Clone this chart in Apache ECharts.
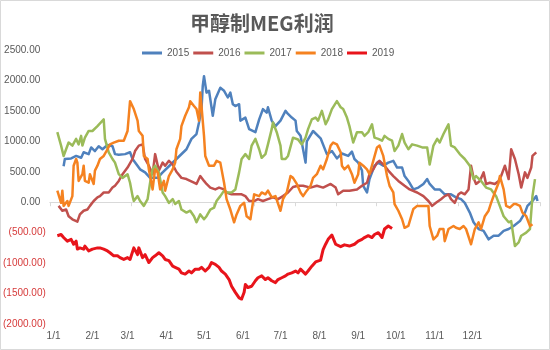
<!DOCTYPE html>
<html>
<head>
<meta charset="utf-8">
<script src="https://cdn.jsdelivr.net/npm/echarts@6/dist/echarts.min.js"></script>
<style>
  html, body { margin: 0; padding: 0; background: #fff; }
  #chart { width: 550px; height: 350px; }
</style>
</head>
<body>
<div id="chart"></div>
<script>
// Methanol-to-MEG profit by year, x = day of year (0 = Jan 1), y = yuan/ton
const years = ['2015', '2016', '2017', '2018', '2019'];
const monthStarts = [0, 31, 59, 90, 120, 151, 181, 212, 243, 273, 304, 334];
const monthLabels = ['1/1', '2/1', '3/1', '4/1', '5/1', '6/1', '7/1', '8/1', '9/1', '10/1', '11/1', '12/1'];
const yTicks = [-2000, -1500, -1000, -500, 0, 500, 1000, 1500, 2000, 2500];

const profit2015 = [
  [8,590],[9,710],[14,720],[18,760],[22,730],[24,820],[28,790],[30,900],[33,840],[36,920],
  [39,870],[43,940],[47,920],[49,790],[52,780],[57,790],[61,820],[63,710],[69,540],[73,490],
  [77,400],[83,400],[87,490],[91,570],[98,710],[106,870],[110,1040],[114,1120],[116,1310],[118,1530],
  [119,1910],[120,2070],[122,1800],[124,1830],[127,1420],[129,1690],[133,1880],[136,1830],[139,1720],[141,1800],
  [143,1610],[145,1580],[148,1610],[149,1340],[153,1390],[156,1200],[161,1150],[164,1360],[167,1530],[170,1470],
  [171,1560],[174,1340],[177,1250],[181,1340],[185,1500],[187,1450],[190,1390],[193,1340],[194,1170],[197,1090],
  [199,870],[201,650],[202,1000],[207,1170],[213,1050],[218,790],[222,840],[226,720],[230,800],[235,760],
  [238,830],[240,710],[243,650],[246,520],[247,270],[250,160],[252,380],[256,600],[259,650],[263,600],
  [267,650],[271,680],[274,570],[278,570],[280,430],[283,350],[287,210],[291,240],[295,300],[298,380],
  [300,300],[304,210],[308,210],[312,130],[317,130],[321,80],[325,50],[328,-10],[332,-170],[335,-330],
  [339,-440],[343,-470],[347,-610],[351,-550],[355,-550],[359,-470],[363,-440],[367,-390],[372,-310],[376,-170],
  [378,-60],[382,20],[385,100],[386,20]
];
const profit2016 = [
  [4,-60],[7,-140],[10,-120],[12,-230],[15,-280],[19,-320],[21,-200],[24,-140],[27,-120],[29,-60],
  [32,20],[35,80],[37,100],[40,160],[44,160],[47,240],[49,270],[52,350],[55,460],[59,570],
  [63,710],[65,840],[68,930],[71,950],[73,710],[76,600],[79,460],[81,790],[84,520],[87,650],
  [89,600],[92,680],[95,620],[98,500],[102,400],[106,380],[109,350],[112,320],[114,300],[117,430],
  [120,350],[122,300],[125,240],[129,210],[132,240],[136,210],[138,160],[142,130],[146,130],[150,130],
  [153,100],[156,20],[160,20],[163,50],[167,20],[171,50],[175,80],[179,50],[183,100],[187,160],
  [191,250],[195,270],[199,270],[205,240],[210,270],[215,240],[221,300],[225,240],[227,130],[231,190],
  [236,190],[242,210],[246,270],[250,320],[252,460],[255,540],[258,650],[260,680],[264,600],[267,520],
  [271,430],[275,350],[280,270],[284,210],[290,160],[295,100],[299,20],[302,-60],[305,-10],[309,50],
  [312,100],[315,130],[317,50],[320,-10],[323,130],[325,160],[328,130],[331,210],[333,600],[335,400],
  [337,300],[340,350],[343,490],[345,300],[348,320],[352,300],[355,350],[357,430],[360,600],[363,380],
  [365,870],[368,710],[371,460],[373,240],[376,490],[378,400],[381,570],[382,760],[385,820]
];
const profit2017 = [
  [3,1150],[6,930],[8,760],[10,870],[12,980],[15,930],[18,1040],[20,950],[22,1090],[23,930],
  [25,1060],[28,1170],[31,1170],[35,1250],[40,1360],[41,1040],[44,820],[47,710],[49,650],[52,460],
  [55,400],[59,460],[61,320],[63,100],[64,20],[67,100],[69,20],[72,-60],[75,50],[77,320],
  [79,540],[81,600],[84,490],[87,160],[89,100],[92,-10],[95,50],[97,-30],[100,20],[102,-120],
  [106,-170],[109,-140],[112,-230],[114,-330],[117,-200],[120,-280],[122,-230],[125,-120],[128,-90],[130,20],
  [133,100],[136,190],[138,160],[142,160],[145,210],[148,490],[150,710],[153,790],[156,710],[158,930],
  [161,1040],[164,870],[166,730],[169,790],[171,950],[174,1200],[175,1310],[178,1150],[181,930],[182,710],
  [185,710],[187,760],[191,1060],[195,1030],[198,950],[201,1060],[203,1200],[206,1360],[209,1390],[211,1340],
  [214,1500],[217,1280],[219,1360],[222,1530],[226,1660],[229,1560],[231,1530],[234,1390],[236,1250],[239,980],
  [242,1150],[246,1150],[248,1090],[251,1150],[254,1280],[256,1060],[259,1040],[262,1010],[264,1090],[267,1040],
  [270,1010],[272,840],[275,930],[278,1120],[280,980],[283,870],[286,950],[290,930],[294,900],[298,900],
  [300,620],[303,930],[306,1040],[308,980],[311,1120],[313,1200],[315,1280],[317,930],[320,900],[324,790],
  [328,710],[332,600],[335,380],[337,430],[341,350],[345,240],[349,210],[353,100],[359,-230],[363,-330],
  [365,-310],[368,-720],[371,-660],[373,-550],[377,-500],[380,-440],[382,100],[384,380]
];
const profit2018 = [
  [3,190],[6,-10],[7,190],[8,-60],[11,20],[12,-60],[15,100],[16,600],[18,710],[19,650],
  [20,350],[23,460],[24,600],[25,350],[28,320],[29,460],[32,300],[33,520],[35,600],[37,710],
  [40,760],[43,870],[45,950],[48,980],[52,1010],[56,1010],[59,1170],[61,1660],[64,1530],[67,1340],
  [68,1170],[71,1090],[72,760],[75,710],[76,540],[79,210],[80,380],[81,540],[83,490],[85,210],
  [88,350],[89,190],[92,430],[95,540],[97,650],[98,870],[101,1040],[102,1250],[105,1420],[108,1560],
  [109,1660],[112,1580],[114,1530],[116,1340],[117,1800],[118,1580],[120,1090],[121,760],[124,600],[128,600],
  [130,680],[133,650],[136,320],[138,50],[141,-120],[144,-330],[146,-200],[149,-60],[152,-10],[154,-230],
  [157,-280],[160,130],[164,100],[166,160],[169,130],[171,190],[174,80],[177,100],[181,-140],[183,50],
  [186,160],[189,430],[191,400],[194,300],[197,160],[199,100],[202,190],[205,270],[207,400],[210,460],
  [213,600],[215,540],[218,710],[221,930],[223,980],[226,950],[229,820],[230,600],[232,540],[235,600],
  [238,460],[240,320],[243,460],[244,650],[247,600],[250,540],[252,460],[255,680],[258,900],[260,930],
  [263,760],[266,430],[268,270],[271,160],[272,-30],[275,-140],[278,-280],[280,-420],[283,-390],[287,-110],
  [290,-60],[295,-60],[299,-60],[300,-390],[303,-610],[306,-550],[308,-440],[311,-440],[312,-640],[315,-440],
  [319,-390],[321,-420],[324,-440],[327,-390],[329,-440],[333,-690],[336,-440],[339,-330],[341,-440],[344,-230],
  [347,-140],[349,-10],[352,160],[355,320],[356,430],[359,210],[361,-60],[364,-90],[367,-30],[369,-30],
  [372,-60],[374,-170],[377,-230],[380,-390],[382,-360]
];
const profit2019 = [
  [3,-550],[6,-530],[8,-580],[11,-640],[14,-610],[16,-690],[18,-640],[19,-770],[21,-750],[24,-770],
  [25,-720],[28,-800],[31,-770],[32,-750],[35,-750],[37,-750],[40,-770],[43,-800],[45,-830],[48,-880],
  [51,-880],[53,-910],[56,-940],[59,-910],[61,-940],[64,-750],[67,-860],[68,-750],[71,-910],[73,-860],
  [76,-990],[79,-910],[81,-880],[84,-830],[87,-880],[89,-940],[92,-960],[95,-1050],[97,-1070],[100,-1100],
  [102,-1160],[105,-1180],[108,-1130],[110,-1160],[113,-1100],[116,-1100],[118,-1070],[121,-1130],[124,-1070],[126,-990],
  [129,-1020],[132,-1070],[134,-1130],[137,-1180],[140,-1270],[142,-1380],[145,-1480],[148,-1570],[150,-1590],[152,-1480],
  [153,-1350],[155,-1400],[158,-1380],[161,-1290],[163,-1240],[166,-1210],[169,-1270],[171,-1240],[174,-1290],[177,-1320],
  [179,-1270],[182,-1240],[185,-1210],[187,-1180],[190,-1160],[193,-1130],[195,-1160],[197,-1100],[201,-1180],[203,-1130],
  [206,-1050],[209,-980],[213,-950],[215,-780],[217,-690],[219,-610],[222,-540],[225,-690],[229,-730],[232,-700],
  [236,-720],[240,-690],[243,-640],[246,-610],[248,-580],[251,-550],[254,-580],[256,-530],[259,-500],[262,-580],
  [264,-440],[267,-390],[270,-430]
];

const seriesData = [profit2015, profit2016, profit2017, profit2018, profit2019];
const colors = ['#4F81BD', '#C0504D', '#9BBB59', '#F58220', '#E8141B'];
const widths = [2.5, 2.5, 2.5, 2.5, 3];

// x range spans a little past one calendar year; 12 equal tick steps along the zero line
const xMin = -3, xMax = 388;
const zeroTicks = [];
for (let k = 0; k <= 12; k++) zeroTicks.push(xMin + k * (xMax - xMin) / 12);

const chart = echarts.init(document.getElementById('chart'));
chart.setOption({
  animation: false,
  backgroundColor: '#fff',
  color: colors,
  graphic: [{
    type: 'rect', silent: true, z: -1,
    shape: { x: 0.5, y: 0.5, width: 549, height: 349 },
    style: { fill: 'none', stroke: '#D9D9D9', lineWidth: 1 }
  }],
  title: {
    text: '甲醇制MEG利润',
    left: 185, top: 8,
    textStyle: { fontFamily: 'Noto Sans CJK SC', fontSize: 20, fontWeight: 'bold', color: '#595959' }
  },
  legend: {
    left: 137, top: 43,
    itemWidth: 20, itemHeight: 3, itemGap: 4,
    textStyle: { fontFamily: 'Liberation Sans', fontSize: 10, color: '#595959' },
    data: years.map(y => ({ name: y, icon: 'rect' }))
  },
  grid: { left: 49, right: 10, top: 50, bottom: 26, containLabel: false },
  xAxis: [{
    type: 'value', min: xMin, max: xMax,
    position: 'bottom',
    axisLine: { show: false, onZero: false },
    axisTick: { show: false },
    splitLine: { show: false },
    axisLabel: {
      customValues: monthStarts,
      formatter: v => monthLabels[monthStarts.indexOf(v)],
      margin: 7,
      fontFamily: 'Liberation Sans', fontSize: 10, color: '#595959'
    }
  }, {
    type: 'value', min: xMin, max: xMax,
    position: 'top',
    axisLine: { show: true, onZero: true, lineStyle: { color: '#D9D9D9', width: 1 } },
    axisTick: { show: true, inside: true, length: 4, customValues: zeroTicks, lineStyle: { color: '#D9D9D9' } },
    axisLabel: { show: false },
    splitLine: { show: false }
  }],
  yAxis: {
    type: 'value', min: yTicks[0], max: yTicks[yTicks.length - 1], interval: 500,
    axisLine: { show: false },
    axisTick: { show: false },
    splitLine: { show: false },
    axisLabel: {
      margin: 4,
      fontFamily: 'Liberation Sans', fontSize: 10,
      color: v => (v < 0 ? '#D63A3A' : '#595959'),
      formatter: v => (v < 0 ? '(' + Math.abs(v).toFixed(2) + ')' : v.toFixed(2) + '  ')
    }
  },
  series: years.map((y, i) => ({
    name: y,
    type: 'line',
    xAxisIndex: 0,
    data: seriesData[i],
    showSymbol: false,
    lineStyle: { width: widths[i], color: colors[i], join: 'round' },
    itemStyle: { color: colors[i] },
    z: 2 + i
  }))
});
</script>
</body>
</html>
